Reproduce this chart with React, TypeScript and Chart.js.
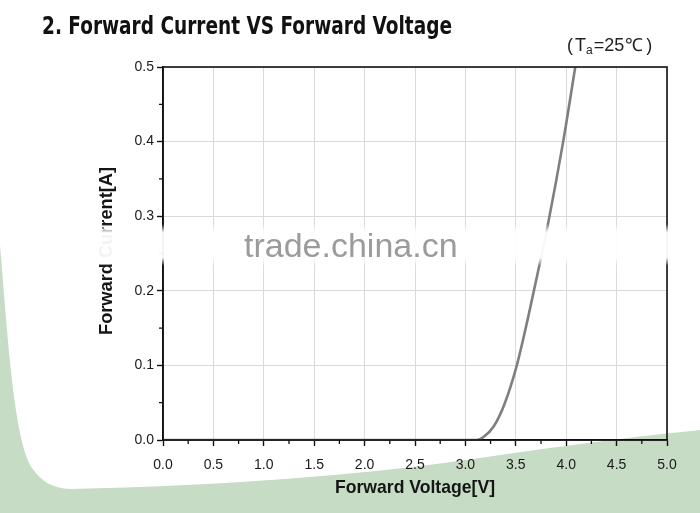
import React, { useEffect, useRef } from "react";
import { Chart, registerables } from "chart.js";

Chart.register(...registerables);

const voltage = [0, 1.0, 2.0, 3.0, 3.11, 3.18, 3.28, 3.39, 3.51, 3.62, 3.74, 3.82, 3.97, 4.09];
const current = [0, 0, 0, 0, 0, 0.004, 0.018, 0.049, 0.1, 0.163, 0.238, 0.29, 0.4, 0.5];

const xMin = 0;
const xMax = 5;
const xStep = 0.5;
const yMin = 0;
const yMax = 0.5;
const yStep = 0.1;
const minorXTicks = [0.25, 0.75, 1.25, 1.75, 2.25, 2.75, 3.25, 3.75, 4.25, 4.75];
const minorYTicks = [0.05, 0.15, 0.25, 0.35, 0.45];

const titleText = "2. Forward Current VS Forward Voltage";
const xTitle = "Forward Voltage[V]";
const yTitle = "Forward Current[A]";
const watermark = "trade.china.cn";

const decoPlugin = {
  id: "deco",
  beforeDraw(chart: any) {
    const ctx = chart.ctx;
    const W = chart.width;
    const H = chart.height;
    ctx.save();
    ctx.fillStyle = "#ffffff";
    ctx.fillRect(0, 0, W, H);
    ctx.fillStyle = "#c6dcc4";
    ctx.beginPath();
    ctx.moveTo(0, 245);
    ctx.bezierCurveTo(8, 340, 14, 440, 32, 468);
    ctx.bezierCurveTo(42, 482, 52, 488, 70, 489);
    ctx.bezierCurveTo(220, 486, 360, 475, 466, 460);
    ctx.bezierCurveTo(560, 446, 640, 436, 700, 430);
    ctx.lineTo(700, 513);
    ctx.lineTo(0, 513);
    ctx.closePath();
    ctx.fill();
    ctx.restore();
  },
  afterDraw(chart: any) {
    const ctx = chart.ctx;
    const { left, right, top, bottom } = chart.chartArea;
    const xs = chart.scales.x;
    const ys = chart.scales.y;
    ctx.save();
    // box
    ctx.strokeStyle = "#111";
    ctx.lineWidth = 1.6;
    ctx.strokeRect(left, top, right - left, bottom - top);
    // minor ticks
    ctx.lineWidth = 1.3;
    ctx.beginPath();
    minorXTicks.forEach((v) => {
      const px = xs.getPixelForValue(v);
      ctx.moveTo(px, bottom);
      ctx.lineTo(px, bottom + 4);
    });
    minorYTicks.forEach((v) => {
      const py = ys.getPixelForValue(v);
      ctx.moveTo(left, py);
      ctx.lineTo(left - 4, py);
    });
    ctx.stroke();

    // title
    ctx.fillStyle = "#111";
    ctx.textAlign = "left";
    ctx.textBaseline = "alphabetic";
    ctx.font = "bold 24px 'DejaVu Sans Condensed', 'DejaVu Sans', sans-serif";
    ctx.fillText(titleText, 42, 34, 410);

    // Ta label
    ctx.font = "18px 'Liberation Sans', sans-serif";
    ctx.fillStyle = "#222";
    let x = 567;
    const by = 51;
    ctx.fillText("(", x, by);
    x += ctx.measureText("(").width + 2;
    ctx.fillText("T", x, by);
    x += ctx.measureText("T").width;
    ctx.font = "12px 'Liberation Sans', sans-serif";
    ctx.fillText("a", x, by + 3);
    x += ctx.measureText("a").width + 1;
    ctx.font = "18px 'Liberation Sans', sans-serif";
    ctx.fillText("=25", x, by);
    x += ctx.measureText("=25").width + 1;
    ctx.fillText("℃", x, by);
    x += ctx.measureText("℃").width + 3;
    ctx.fillText(")", x, by);

    // axis titles
    ctx.fillStyle = "#151515";
    ctx.font = "bold 19px 'Liberation Sans Narrow', 'Liberation Sans', sans-serif";
    ctx.textAlign = "center";
    ctx.textBaseline = "middle";
    ctx.fillText(xTitle, (left + right) / 2, 488, 160);
    ctx.save();
    ctx.translate(107, 251);
    ctx.rotate(-Math.PI / 2);
    ctx.fillText(yTitle, 0, 0, 168);
    ctx.restore();

    // watermark band
    const g = ctx.createLinearGradient(0, 224, 0, 266);
    g.addColorStop(0, "rgba(255,255,255,0)");
    g.addColorStop(0.2, "rgba(255,255,255,0.95)");
    g.addColorStop(0.8, "rgba(255,255,255,0.95)");
    g.addColorStop(1, "rgba(255,255,255,0)");
    ctx.fillStyle = g;
    ctx.fillRect(96, 224, 594, 42);
    ctx.fillStyle = "#9b9b9b";
    ctx.font = "34px 'Liberation Sans', sans-serif";
    ctx.textAlign = "left";
    ctx.textBaseline = "alphabetic";
    ctx.fillText(watermark, 244, 257, 215);
    ctx.restore();
  },
};

export default function App() {
  const ref = useRef<HTMLCanvasElement>(null);
  useEffect(() => {
    document.body.style.margin = "0";
    const canvas = ref.current!;
    const chart = new Chart(canvas, {
      type: "scatter",
      data: {
        datasets: [
          {
            data: voltage.map((v, i) => ({ x: v, y: current[i] })),
            showLine: true,
            borderColor: "#7f7f7f",
            borderWidth: 2.6,
            pointRadius: 0,
            cubicInterpolationMode: "monotone",
            fill: false,
          },
        ],
      },
      options: {
        animation: false,
        responsive: false,
        devicePixelRatio: 1,
        layout: { padding: { left: 103, top: 67, right: 33, bottom: 33 } },
        plugins: { legend: { display: false }, tooltip: { enabled: false }, title: { display: false } },
        scales: {
          x: {
            type: "linear",
            min: xMin,
            max: xMax,
            afterFit: (s: any) => {
              s.height = 40;
            },
            ticks: {
              stepSize: xStep,
              color: "#1a1a1a",
              font: { family: "'Liberation Sans', sans-serif", size: 14 },
              padding: 11,
              maxRotation: 0,
              callback: (v: any) => Number(v).toFixed(1),
            },
            grid: { color: "#dadada", lineWidth: 1, tickColor: "#111", tickLength: 6, tickWidth: 1.4 },
            border: { color: "#111", width: 1.6 },
          },
          y: {
            type: "linear",
            min: yMin,
            max: yMax,
            afterFit: (s: any) => {
              s.width = 60;
            },
            ticks: {
              stepSize: yStep,
              color: "#1a1a1a",
              font: { family: "'Liberation Sans', sans-serif", size: 14 },
              padding: 3,
              callback: (v: any) => Number(v).toFixed(1),
            },
            grid: { color: "#dadada", lineWidth: 1, tickColor: "#111", tickLength: 6, tickWidth: 1.4 },
            border: { color: "#111", width: 1.6 },
          },
        },
      },
      plugins: [decoPlugin],
    } as any);
    return () => chart.destroy();
  }, []);
  return (
    <div style={{ position: "fixed", left: 0, top: 0, width: 700, height: 513 }}>
      <canvas ref={ref} width={700} height={513} style={{ display: "block" }} />
    </div>
  );
}
